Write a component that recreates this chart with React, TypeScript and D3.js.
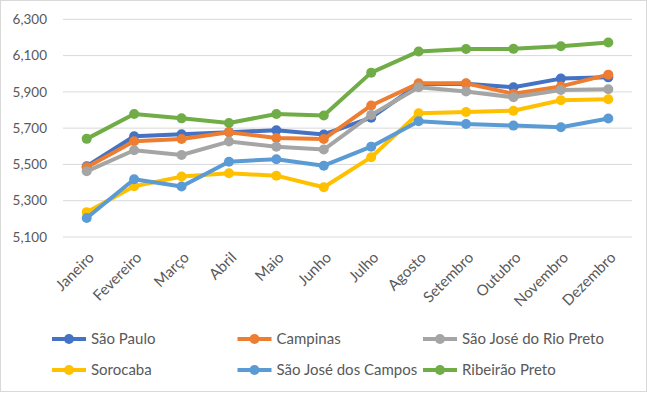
import React from "react";
import * as d3 from "d3";

const months = ["Janeiro","Fevereiro","Março","Abril","Maio","Junho","Julho","Agosto","Setembro","Outubro","Novembro","Dezembro"];
const yTicks = [5100, 5300, 5500, 5700, 5900, 6100, 6300];

const saoPaulo = [5490, 5655, 5666, 5678, 5688, 5665, 5758, 5942, 5945, 5925, 5973, 5980];
const campinas = [5485, 5628, 5640, 5677, 5646, 5640, 5825, 5947, 5947, 5890, 5930, 5995];
const rioPreto = [5462, 5578, 5552, 5626, 5597, 5582, 5773, 5925, 5902, 5870, 5910, 5914];
const sorocaba = [5237, 5380, 5433, 5451, 5438, 5374, 5540, 5782, 5789, 5796, 5854, 5859];
const sjCampos = [5205, 5418, 5378, 5515, 5529, 5493, 5598, 5738, 5723, 5714, 5705, 5753];
const ribeirao = [5641, 5778, 5754, 5728, 5778, 5770, 6006, 6123, 6136, 6137, 6151, 6172];

const seriesNames = ["São Paulo","Campinas","São José do Rio Preto","Sorocaba","São José dos Campos","Ribeirão Preto"];
const seriesValues = [saoPaulo, campinas, rioPreto, sorocaba, sjCampos, ribeirao];
const seriesColors = ["#4472C4","#ED7D31","#A5A5A5","#FFC000","#5B9BD5","#70AD47"];

const W = 647, H = 394;
const left = 63, right = 632, top = 19.3, bottom = 237;
const font = "Lato, 'Open Sans', sans-serif";

export default function App() {
  const x = d3.scaleBand<string>().domain(months).range([left, right]);
  const y = d3.scaleLinear().domain([5100, 6300]).range([bottom, top]);
  const cxOf = (i: number) => (x(months[i]) as number) + x.bandwidth() / 2;
  const line = d3.line<number>().x((_, i) => cxOf(i)).y(d => y(d));
  const fmt = d3.format(",");
  return (
    <svg width={W} height={H} style={{ position: "absolute", left: 0, top: 0, background: "#fff" }} fontFamily={font}>
      <rect x={0.5} y={0.5} width={W - 1} height={H - 3} fill="#fff" stroke="#d9d9d9" />
      {yTicks.map(t => (
        <g key={t}>
          <line x1={left} x2={right} y1={y(t)} y2={y(t)} stroke="#d9d9d9" strokeWidth={1} />
          <text x={47} y={y(t)} dy="0.35em" textAnchor="end" fontSize={13.5} fill="#595959">{fmt(t)}</text>
        </g>
      ))}
      {months.map((m, i) => (
        <text key={m} transform={`translate(${cxOf(i) + 1},${y(5100) + 14}) rotate(-45)`} textAnchor="end" dy="0.7em" fontSize={15} fill="#595959">{m}</text>
      ))}
      {seriesValues.map((vals, si) => (
        <g key={si}>
          <path d={line(vals) as string} fill="none" stroke={seriesColors[si]} strokeWidth={4} strokeLinejoin="round" />
          {vals.map((v, i) => (
            <circle key={i} cx={cxOf(i)} cy={y(v)} r={5} fill={seriesColors[si]} />
          ))}
        </g>
      ))}
      {seriesNames.map((n, i) => {
        const col = i % 3, row = Math.floor(i / 3);
        const lx = 52 + col * 185.5, ly = 339 + row * 31;
        return (
          <g key={n}>
            <line x1={lx} x2={lx + 34} y1={ly} y2={ly} stroke={seriesColors[i]} strokeWidth={4} />
            <circle cx={lx + 17} cy={ly} r={5} fill={seriesColors[i]} />
            <text x={lx + 39} y={ly} dy="0.35em" fontSize={15} fill="#595959">{n}</text>
          </g>
        );
      })}
    </svg>
  );
}
